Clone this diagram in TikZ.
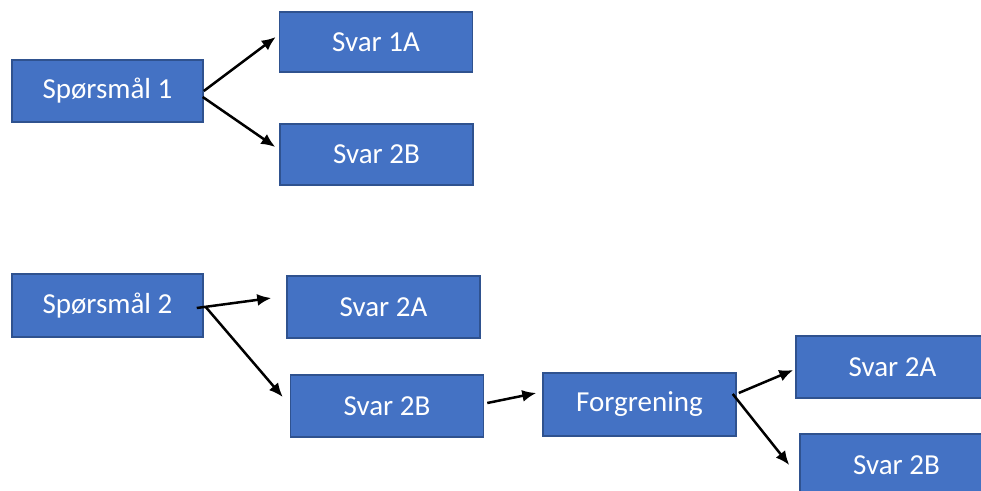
\documentclass[tikz,border=0pt]{standalone}
\usepackage{fontspec}
\setmainfont{Carlito}
\usepackage{tikz}
\usepackage{xcolor}
\usetikzlibrary{arrows.meta,calc}

\definecolor{boxfill}{HTML}{4472C4}
\definecolor{boxedge}{HTML}{2F528F}

\begin{document}
\begin{tikzpicture}[x=1pt,y=-1pt,>={Latex[length=14pt,width=12pt]},
    svarbox/.style={draw=boxedge,line width=1.5pt,fill=boxfill,text=white,
      minimum width=193pt,minimum height=62pt,inner sep=0pt,
      font=\fontsize{29}{35}\selectfont},
    pil/.style={->,line width=2.5pt}]
  \clip (0,0) rectangle (981,490);

  % first question
  \node[svarbox,minimum width=191pt] (q1) at (107.5,91) {Spørsmål 1};
  \node[svarbox,minimum height=60pt] (a1) at (376,42) {Svar 1A};
  \node[svarbox,minimum height=61pt] (b1) at (376.5,154.5) {Svar 2B};
  \draw[pil] (q1.east) -- ($(a1.west)+(-3,-5)$);
  \draw[pil] ($(q1.east)+(-1,6)$) -- ($(b1.west)+(-4,-7.5)$);

  % second question with branching
  \node[svarbox,minimum width=191pt,minimum height=63pt] (q2) at (107.5,305.5) {Spørsmål 2};
  \node[svarbox] (a2) at (383.5,307) {Svar 2A};
  \node[svarbox] (b2) at (387,406) {Svar 2B};
  \node[svarbox,minimum height=63pt] (f) at (639.5,404.5) {Forgrening};
  \node[svarbox] (a3) at (892.5,367) {Svar 2A};
  \node[svarbox] (b3) at (896.5,465) {Svar 2B};
  \draw[pil] ($(q2.east)+(-7,2.5)$) -- ($(a2.west)+(-15,-9)$);
  \draw[pil] ($(q2.east)+(2,1.5)$) -- ($(b2.west)+(-7,-9)$);
  \draw[pil] ($(b2.east)+(3,-3)$) -- ($(f.west)+(-6,-11.5)$);
  \draw[pil] ($(f.east)+(2,-11.5)$) -- ($(a3.west)+(-2,3)$);
  \draw[pil] ($(f.east)+(-4,-10.5)$) -- ($(b3.west)+(-10,0)$);
\end{tikzpicture}
\end{document}
